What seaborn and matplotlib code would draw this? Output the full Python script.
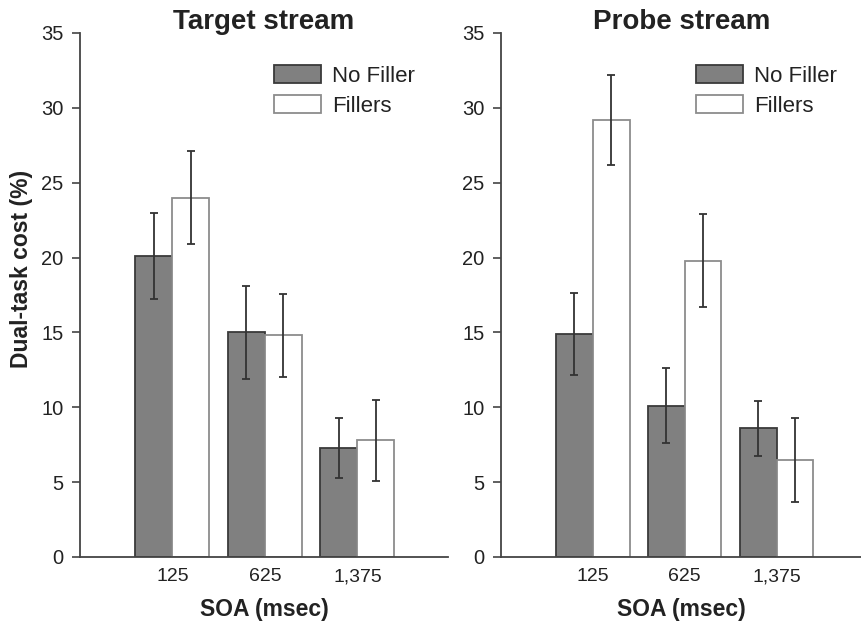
import matplotlib
matplotlib.use("Agg")
import matplotlib.pyplot as plt
import matplotlib.patches as mpatches
import seaborn as sns
import pandas as pd
import numpy as np

soa = ["125", "625", "1,375"]
conditions = ["No Filler", "Fillers"]

target_nofill = [20.1, 15.0, 7.3]
target_fill = [24.0, 14.8, 7.8]
target_nofill_err = [2.9, 3.1, 2.0]
target_fill_err = [3.1, 2.75, 2.7]

probe_nofill = [14.9, 10.1, 8.6]
probe_fill = [29.2, 19.8, 6.5]
probe_nofill_err = [2.75, 2.5, 1.85]
probe_fill_err = [3.0, 3.1, 2.8]

titles = ["Target stream", "Probe stream"]
yticks = [0, 5, 10, 15, 20, 25, 30, 35]

sns.set_theme(style="white")
plt.rcParams["font.family"] = ["Liberation Sans", "DejaVu Sans"]

fig = plt.figure(figsize=(8.62, 6.21), dpi=100)
ax1 = fig.add_axes([80 / 862, 64 / 621, 368 / 862, 524 / 621])
ax2 = fig.add_axes([501 / 862, 64 / 621, 361 / 862, 524 / 621])

dark = "#808080"
dark_edge = "#3a3a3a"
light_edge = "#8c8c8c"
err_col = "#333333"

panels = [
    (ax1, target_nofill, target_fill, target_nofill_err, target_fill_err, titles[0], 0.527, 2.98),
    (ax2, probe_nofill, probe_fill, probe_nofill_err, probe_fill_err, titles[1], 0.54, 2.93),
]

for i, (ax, nf, fl, nfe, fle, title, legx, xr) in enumerate(panels):
    df = pd.DataFrame({
        "SOA": soa * 2,
        "Condition": [conditions[0]] * 3 + [conditions[1]] * 3,
        "Cost": nf + fl,
        "Err": nfe + fle,
    })
    sns.barplot(data=df, x="SOA", y="Cost", hue="Condition", order=soa,
                hue_order=conditions, palette={"No Filler": dark, "Fillers": "white"},
                errorbar=None, width=0.8, ax=ax, legend=False)
    bars = [p for p in ax.patches if isinstance(p, mpatches.Rectangle)][:6]
    vals = nf + fl
    errs = nfe + fle
    for j, p in enumerate(bars):
        if j < 3:
            p.set_edgecolor(dark_edge)
        else:
            p.set_edgecolor(light_edge)
        p.set_linewidth(1.3)
        xc = p.get_x() + p.get_width() / 2
        ax.errorbar(xc, vals[j], yerr=errs[j], color=err_col, elinewidth=1.3,
                    capsize=3.2, capthick=1.3, fmt="none", zorder=5)
    ax.set_xlim(-1.0, xr)
    ax.set_ylim(0, 35)
    ax.set_yticks(yticks)
    ax.set_yticklabels([str(t) for t in yticks])
    ax.tick_params(axis="y", which="major", left=True, length=6, width=1.2,
                   color="#444444", labelsize=14.5, pad=6, labelcolor="#222222")
    ax.tick_params(axis="x", length=0, labelsize=14, pad=8, labelcolor="#222222")
    for s in ["top", "right"]:
        ax.spines[s].set_visible(False)
    for s in ["left", "bottom"]:
        ax.spines[s].set_color("#444444")
        ax.spines[s].set_linewidth(1.3)
    ax.set_xlabel("SOA (msec)", fontsize=16.5, fontweight="bold", labelpad=9, color="#222222")
    if i == 0:
        ax.set_ylabel("Dual-task cost (%)", fontsize=16.5, fontweight="bold", color="#222222")
        ax.yaxis.set_label_coords(-0.128, 0.55)
    else:
        ax.set_ylabel("")
    ax.set_title(title, fontsize=20, fontweight="bold", pad=3, color="#222222")
    handles = [
        mpatches.Patch(facecolor=dark, edgecolor=dark_edge, linewidth=1.3),
        mpatches.Patch(facecolor="white", edgecolor=light_edge, linewidth=1.3),
    ]
    leg = ax.legend(handles, conditions, loc="upper left", bbox_to_anchor=(legx, 0.939),
                    frameon=False, fontsize=16, handlelength=2.1, handleheight=0.85,
                    labelspacing=0.4, handletextpad=0.5, borderaxespad=0, borderpad=0)
    for t in leg.get_texts():
        t.set_color("#222222")

fig.savefig("out.png", dpi=100, facecolor="white")
